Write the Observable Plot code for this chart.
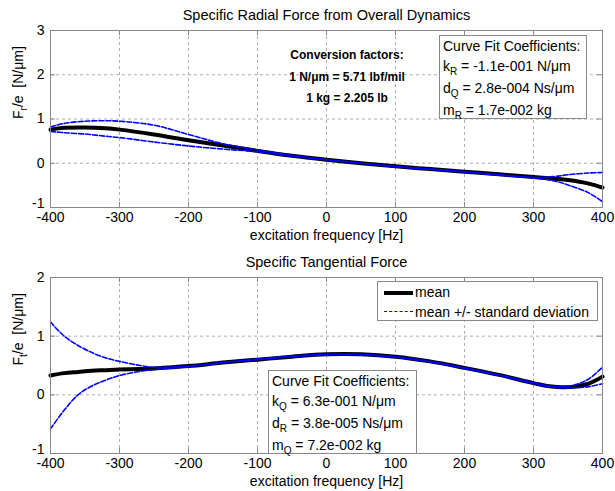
<!DOCTYPE html>
<html><head><meta charset="utf-8">
<script src="https://cdn.jsdelivr.net/npm/d3@7"></script>
<script src="https://cdn.jsdelivr.net/npm/@observablehq/plot@0.6"></script>
<style>
body{margin:0;background:#fff;}
#wrap{position:relative;width:615px;height:491px;font-family:"Liberation Sans",Arial,Helvetica,sans-serif;color:#000;}
#wrap svg{display:block;}
.box{position:absolute;background:#fff;border:1px solid #888;box-sizing:border-box;font-size:14px;line-height:20px;padding-left:3px;white-space:nowrap;}
.sub{font-size:10px;position:relative;top:4px;}
.conv{position:absolute;font-weight:bold;font-size:12px;text-align:center;width:200px;line-height:21.5px;white-space:nowrap;}
.leg{position:absolute;left:37px;font-size:14px;line-height:20px;white-space:nowrap;}
</style></head><body><div id="wrap"></div>
<script>
const xTicks = [-400,-300,-200,-100,0,100,200,300,400];
const yTicksRadial = [-1,0,1,2,3];
const yTicksTangential = [-1,0,1,2];

const freqRadial  = [-400,-380,-350,-320,-300,-250,-200,-150,-100,-50,0,50,100,150,200,250,300,330,350,380,400];
const meanRadial  = [0.76,0.80,0.81,0.79,0.76,0.65,0.52,0.40,0.28,0.17,0.08,0.00,-0.07,-0.13,-0.19,-0.25,-0.31,-0.35,-0.38,-0.46,-0.55];
const upperRadial = [0.82,0.90,0.95,0.96,0.95,0.86,0.65,0.44,0.30,0.18,0.08,0.00,-0.07,-0.13,-0.19,-0.26,-0.32,-0.30,-0.26,-0.22,-0.21];
const lowerRadial = [0.72,0.69,0.66,0.61,0.58,0.48,0.39,0.32,0.26,0.16,0.08,0.00,-0.08,-0.14,-0.20,-0.27,-0.33,-0.40,-0.49,-0.67,-0.87];

const freqTang  = [-400,-380,-360,-340,-320,-300,-270,-250,-200,-150,-100,-50,0,50,100,150,200,250,300,320,340,360,380,400];
const meanTang  = [0.33,0.37,0.39,0.41,0.42,0.43,0.44,0.45,0.49,0.55,0.60,0.65,0.69,0.69,0.65,0.57,0.46,0.34,0.20,0.15,0.13,0.14,0.19,0.31];
const upperTang = [1.24,1.00,0.84,0.72,0.63,0.57,0.50,0.47,0.49,0.55,0.61,0.66,0.69,0.69,0.65,0.57,0.46,0.34,0.21,0.16,0.14,0.17,0.27,0.47];
const lowerTang = [-0.58,-0.26,0.00,0.15,0.25,0.33,0.40,0.43,0.48,0.55,0.60,0.65,0.68,0.68,0.64,0.56,0.45,0.33,0.19,0.14,0.12,0.12,0.14,0.19];

const FONT = '"Liberation Sans", Arial, Helvetica, sans-serif';
const xLabel = "excitation frequency [Hz]";

function panel({title, sub, yDomain, yTicks, freq, mean, upper, lower, height, marginTop, marginBottom}) {
  const rows = freq.map((f, i) => ({f, mean: mean[i], upper: upper[i], lower: lower[i]}));
  const fh = height - marginTop - marginBottom;
  const fw = 615 - 50 - 13;
  const ylabel = "F" + sub + "/e  [N/μm]";
  const grid = {stroke: "#9a9a9a", strokeOpacity: 1, strokeWidth: 0.8, strokeDasharray: "3,3"};
  const blue = {stroke: "#0000ff", strokeWidth: 1.6, strokeDasharray: "5,2", curve: "catmull-rom"};
  const p = Plot.plot({
    width: 615, height, marginLeft: 50, marginRight: 13, marginTop, marginBottom,
    style: {fontFamily: FONT, fontSize: "14px", color: "#000", background: "transparent"},
    x: {domain: [-400, 400]},
    y: {domain: yDomain},
    marks: [
      Plot.gridX(xTicks, grid),
      Plot.gridY(yTicks, grid),
      Plot.line(rows, {x: "f", y: "mean", stroke: "black", strokeWidth: 4, curve: "catmull-rom"}),
      Plot.line(rows, {x: "f", y: "upper", ...blue}),
      Plot.line(rows, {x: "f", y: "lower", ...blue}),
      Plot.frame({stroke: "#888"}),
      Plot.tickX(xTicks, {x: d => d, stroke: "#888", insetTop: fh - 5}),
      Plot.tickX(xTicks, {x: d => d, stroke: "#888", insetBottom: fh - 5}),
      Plot.tickY(yTicks, {y: d => d, stroke: "#888", insetRight: fw - 5}),
      Plot.tickY(yTicks, {y: d => d, stroke: "#888", insetLeft: fw - 5}),
      Plot.axisX(xTicks, {tickSize: 0, tickPadding: 5, tickFormat: d => String(d), label: null}),
      Plot.axisY(yTicks.filter(d => d !== yDomain[0]), {tickSize: 0, tickPadding: 6, tickFormat: d => String(d), label: null}),
      Plot.axisY([yDomain[0]], {tickSize: 0, tickPadding: 6, dy: -4, tickFormat: d => String(d), label: null}),
      Plot.text([title], {text: d => d, frameAnchor: "top", dy: -15, fontSize: 14.5, lineAnchor: "middle"}),
      Plot.text([xLabel], {text: d => d, frameAnchor: "bottom", dy: 28, lineAnchor: "middle"}),
      Plot.text([ylabel], {text: d => d, frameAnchor: "left", dx: -32, rotate: -90, lineAnchor: "middle"})
    ]
  });
  d3.select(p).selectAll("text").filter(function() { return this.textContent === ylabel; }).each(function() {
    const t = d3.select(this);
    t.text(null).style("white-space", "pre");
    t.append("tspan").text("F");
    t.append("tspan").attr("dy", 4).attr("font-size", 10).text(sub);
    t.append("tspan").attr("dy", -4).text("/e  [N/μm]");
  });
  return p;
}

const wrap = document.getElementById("wrap");
wrap.appendChild(panel({title: "Specific Radial Force from Overall Dynamics", sub: "r", yDomain: [-1, 3], yTicks: yTicksRadial,
  freq: freqRadial, mean: meanRadial, upper: upperRadial, lower: lowerRadial, height: 245, marginTop: 30, marginBottom: 38}));
wrap.appendChild(panel({title: "Specific Tangential Force", sub: "t", yDomain: [-1, 2], yTicks: yTicksTangential,
  freq: freqTang, mean: meanTang, upper: upperTang, lower: lowerTang, height: 246, marginTop: 32, marginBottom: 38}));

function addHTML(html) { wrap.insertAdjacentHTML("beforeend", html); }
addHTML(`<div class="conv" style="left:247px;top:45px;">Conversion factors:<br>1 N/μm = 5.71 lbf/mil<br>1 kg = 2.205 lb</div>`);
addHTML(`<div class="box" style="left:439px;top:35px;width:148px;height:84px;line-height:20px;">Curve Fit Coefficients:<br>k<span class="sub">R</span> = -1.1e-001 N/μm<br>d<span class="sub">Q</span> = 2.8e-004 Ns/μm<br>m<span class="sub">R</span> = 1.7e-002 kg</div>`);
addHTML(`<div class="box" style="left:268px;top:370px;width:149px;height:84px;">Curve Fit Coefficients:<br>k<span class="sub">Q</span> = 6.3e-001 N/μm<br>d<span class="sub">R</span> = 3.8e-005 Ns/μm<br>m<span class="sub">Q</span> = 7.2e-002 kg</div>`);
addHTML(`<div class="box" style="left:377px;top:281px;width:221px;height:40px;padding:0;">
  <div style="position:absolute;left:6px;top:9px;width:29px;height:0;border-top:4px solid #000;"></div>
  <div class="leg" style="top:0px;">mean</div>
  <div style="position:absolute;left:6px;top:29px;width:29px;height:0;border-top:1.5px dashed #0000ff;"></div>
  <div class="leg" style="top:20px;">mean +/- standard deviation</div>
</div>`);
</script>
</body></html>
